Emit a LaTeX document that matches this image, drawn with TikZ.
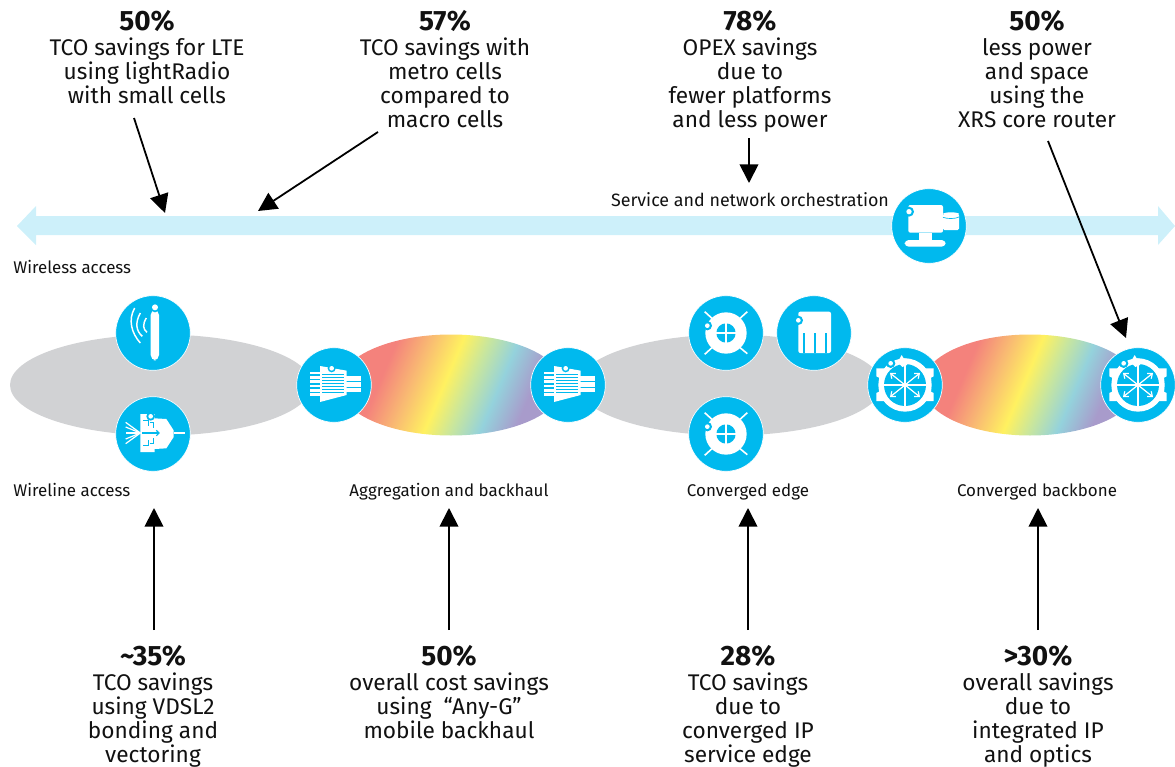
\documentclass[tikz,border=0pt]{standalone}
\usepackage{fontspec}
\setmainfont{Fira Sans}
\usetikzlibrary{arrows.meta}
\definecolor{cy}{HTML}{00B9EE}
\definecolor{barc}{HTML}{CDF0FA}
\definecolor{gry}{HTML}{D1D2D4}
\definecolor{txt}{HTML}{111111}
\definecolor{rb1}{HTML}{F4827C}
\definecolor{rb2}{HTML}{F9BC72}
\definecolor{rb3}{HTML}{FFF160}
\definecolor{rb4}{HTML}{C8E69E}
\definecolor{rb5}{HTML}{94D2DC}
\definecolor{rb6}{HTML}{A89BCB}
\pgfdeclarehorizontalshading{rainbowsh}{100bp}{
 color(0bp)=(rb1); color(25bp)=(rb1); color(35bp)=(rb1); color(42bp)=(rb2); color(48.5bp)=(rb3); color(54bp)=(rb4); color(60bp)=(rb5); color(67bp)=(rb6); color(100bp)=(rb6)}
\tikzset{
 x=0.75pt,y=-0.75pt,
 disc/.style={circle,fill=cy,draw=white,line width=0.5pt,minimum size=56pt,inner sep=0pt},
 big/.style={align=center,inner sep=0pt,text=txt,font=\fontsize{17}{18}\selectfont},
 small/.style={inner sep=0pt,text=txt,font=\fontsize{12.7}{14}\selectfont},
 arr/.style={line width=1.35pt,black,-{Triangle[length=14pt,width=14pt]}},
 ic/.style={draw=white,line width=0.9pt},
 tiny/.style={draw=white,line width=0.9pt,-{Straight Barb[length=3pt,width=5pt]}},
 wifiicon/.pic={\begin{scope}[scale=1/3]
  \fill[white,rounded corners=4pt] (-7,-70) rectangle (18,82);
  \fill[cy] (6,-77) circle (15); \fill[white] (6,-77) circle (9);
  \draw[ic,line width=1.1pt] (-55,-75) .. controls (-75,-40) and (-65,0) .. (-38,30);
  \draw[ic,line width=1.1pt] (-38,-60) .. controls (-55,-30) and (-50,-5) .. (-32,10);
  \draw[ic,line width=1.1pt] (-20,-45) .. controls (-32,-25) and (-30,-12) .. (-18,-2);
 \end{scope}},
 fibreicon/.pic={\begin{scope}[scale=1/3,shift={(-160,-463)}]
  \fill[white] (122,403) -- (165,403) -- (165,416) -- (200,418) -- (222,452) -- (222,472) -- (200,506) -- (165,508) -- (165,517) -- (122,517) -- cycle;
  \draw[ic] (222,460) -- (255,460);
  \foreach \yy in {428,442,460,478,492}{\draw[ic] (122,460) -- (78,\yy);}
  \fill[cy] (153,410) circle (13); \fill[white] (153,410) circle (7);
  \draw[draw=cy,line width=0.8pt] (128,460) -- (175,460);
  \draw[draw=cy,line width=0.8pt] (170,452) -- (178,460) -- (170,468);
  \draw[draw=cy,line width=0.8pt] (130,422) -- (146,422) -- (146,438) (152,428) -- (162,428) -- (162,446);
  \draw[draw=cy,line width=0.8pt] (130,498) -- (146,498) -- (146,482) (152,492) -- (162,492) -- (162,476);
 \end{scope}},
 aggicon/.pic={\begin{scope}[scale=1/3,shift={(-702,-315)}]
  \fill[white] (660,258) -- (740,272) -- (740,345) -- (660,366) -- cycle;
  \foreach \yy in {275,288,301,314,327,340}{\fill[white] (630,\yy) rectangle (662,\yy+8);}
  \fill[white] (738,288) rectangle (782,302);
  \fill[white] (738,306) rectangle (782,320);
  \fill[white] (738,323) rectangle (782,336);
  \foreach \yy in {284,293,302,311,320,329,338}{\draw[draw=cy,line width=0.5pt] (666,\yy) -- (732,\yy);}
  \fill[cy] (695,265) circle (12); \fill[white] (695,265) circle (7);
 \end{scope}},
 edgeicon/.pic={\begin{scope}[scale=1/3]
  \fill[white] (0,0) circle (62);
  \fill[cy] (0,0) circle (29);
  \draw[ic,line width=1.3pt] (-29,0) -- (29,0) (0,-29) -- (0,29);
  \draw[ic,line width=1.2pt] (-64,-64) -- (-40,-42) (64,-64) -- (42,-44) (-64,64) -- (-42,44) (64,62) -- (42,44);
  \fill[cy] (-56,-22) circle (14); \fill[white] (-56,-22) circle (7);
 \end{scope}},
 cardicon/.pic={\begin{scope}[scale=1/3]
  \fill[white,rounded corners=1.5pt] (-47,-64) rectangle (51,60);
  \fill[cy] (-47,-38) circle (14); \fill[white] (-47,-38) circle (7);
  \foreach \xx in {-30,3,36}{\draw[draw=cy,line width=0.9pt] (\xx,0) -- (\xx,60);}
 \end{scope}},
 routericon/.pic={\begin{scope}[scale=1/3]
  \fill[white] (-86,-50) -- (-60,-50) -- (-60,48) -- (-86,48) -- (-86,24) -- (-78,20) -- (-78,-22) -- (-86,-26) -- cycle;
  \fill[white] (86,-50) -- (60,-50) -- (60,48) -- (86,48) -- (86,24) -- (78,20) -- (78,-22) -- (86,-26) -- cycle;
  \fill[white] (0,0) circle (80);
  \fill[cy] (0,0) circle (63);
  \draw[ic] (-63,0) -- (63,0) (0,-63) -- (0,63);
  \draw[tiny] (0,0) -- (-45,-36);
  \draw[tiny] (0,0) -- (45,-36);
  \draw[tiny] (0,0) -- (-45,36);
  \draw[tiny] (0,0) -- (45,36);
  \fill[cy] (-43,-65) circle (14); \fill[white] (-43,-65) circle (7);
  \fill[white] (-22,-68) -- (-10,-90) -- (-4,-80) -- (14,-78) -- (6,-60) -- (-8,-54) -- cycle;
 \end{scope}},
 deskicon/.pic={\begin{scope}[scale=1/3]
  \fill[white,rounded corners=1.5pt] (-62,-63) rectangle (42,20);
  \fill[white] (-30,20) rectangle (10,42);
  \fill[white,rounded corners=3pt] (-73,42) rectangle (50,62);
  \fill[white,rounded corners=1pt] (42,-36) rectangle (90,12);
  \fill[white] (66,-36) ellipse (24 and 5);
  \draw[draw=cy,line width=0.5pt] (42,-26) .. controls (55,-21) and (78,-21) .. (90,-27);
  \fill[cy] (-60,-43) circle (15); \fill[white] (-60,-43) circle (8);
 \end{scope}}
}
\begin{document}
\begin{tikzpicture}
\useasboundingbox (0,0) rectangle (1175,767);
% orchestration bar
\fill[barc] (17,226) -- (36,206) -- (36,216) -- (1158,216) -- (1158,206) -- (1175,226) -- (1158,245) -- (1158,235) -- (36,235) -- (36,245) -- cycle;
% ellipses
\fill[gry] (161,385) ellipse (151 and 50.5);
\fill[gry] (730,385) ellipse (152 and 50.5);
\begin{scope}
 \clip (451,385) ellipse (112 and 50.5);
 \begin{scope}[transform canvas={rotate around={-23:(451,385)}}]
  \shade[shading=rainbowsh] (339,225) rectangle (563,545);
 \end{scope}
\end{scope}
\begin{scope}
 \clip (1030,385) ellipse (108 and 50.5);
 \begin{scope}[transform canvas={rotate around={-23:(1030,385)}}]
  \shade[shading=rainbowsh] (922,225) rectangle (1138,545);
 \end{scope}
\end{scope}
% discs
\node[disc] (wifi) at (153,333) {};
\node[disc] (fibre) at (153,434) {};
\node[disc] (agg1) at (334,385) {};
\node[disc] (agg2) at (568,385) {};
\node[disc] (edge1) at (726,333) {};
\node[disc] (card) at (814,333) {};
\node[disc] (edge2) at (726,434) {};
\node[disc] (rt1) at (905,385) {};
\node[disc] (rt2) at (1138,385) {};
\node[disc] (desk) at (929,226) {};
\pic at (wifi) {wifiicon};
\pic at (fibre) {fibreicon};
\pic at (agg1) {aggicon};
\pic at (agg2) {aggicon};
\pic at (edge1) {edgeicon};
\pic at (edge2) {edgeicon};
\pic at (card) {cardicon};
\pic at (rt1) {routericon};
\pic at (rt2) {routericon};
\pic at (desk) {deskicon};
% small labels
\node[small,anchor=west] (lwless) at (13,267) {Wireless access};
\node[small,anchor=west] (lwline) at (13,490) {Wireline access};
\node[small] (lagg) at (449,491.5) {Aggregation and backhaul};
\node[small] (ledge) at (748,491.5) {Converged edge};
\node[small] (lbone) at (1037,491.5) {Converged backbone};
\node[small,font=\fontsize{13.4}{14}\selectfont] (lserv) at (750,200) {Service and network orchestration};
% top texts
\newcommand{\pct}[1]{{\fontsize{21}{24}\selectfont\bfseries #1}\\[0.5pt]}
\node[big,anchor=north] (t1) at (147,10) {\pct{50\%}TCO savings for LTE\\using lightRadio\\with small cells};
\node[big,anchor=north] (t2) at (445,10) {\pct{57\%}TCO savings with\\metro cells\\compared to\\macro cells};
\node[big,anchor=north] (t3) at (750,10) {\pct{78\%}OPEX savings\\due to\\fewer platforms\\and less power};
\node[big,anchor=north] (t4) at (1037,10) {\pct{50\%}less power\\and space\\using the\\XRS core router};
% bottom texts
\node[big,anchor=north] (b1) at (153,645) {\pct{\textasciitilde35\%}TCO savings\\using VDSL2\\bonding and\\vectoring};
\node[big,anchor=north] (b2) at (449,645) {\pct{50\%}overall cost savings\\using ~“Any-G”\\mobile backhaul};
\node[big,anchor=north] (b3) at (748,645) {\pct{28\%}TCO savings\\due to\\converged IP\\service edge};
\node[big,anchor=north] (b4) at (1038,645) {\pct{>30\%}overall savings\\due to\\integrated IP\\and optics};
% connectors
\coordinate (e1) at (165,213);
\coordinate (e2) at (258,211);
\coordinate (e3) at (749,183);
\coordinate (e4) at (1126,338);
\coordinate (s1) at (134,118);
\coordinate (s2) at (378,132);
\coordinate (s3) at (749,138);
\coordinate (s4) at (1048,141);
\draw[arr] (s1) -- (e1);
\draw[arr] (s2) -- (e2);
\draw[arr] (s3) -- (e3);
\draw[arr] (s4) -- (e4);
\draw[arr] ([shift={(1,-15)}]b1.north) -- (154,508);
\draw[arr] ([shift={(0,-15)}]b2.north) -- (lagg.south |- 0,508);
\draw[arr] ([shift={(0,-15)}]b3.north) -- (ledge.south |- 0,508);
\draw[arr] ([shift={(0,-15)}]b4.north) -- (b4.north |- 0,508);
\end{tikzpicture}
\end{document}
